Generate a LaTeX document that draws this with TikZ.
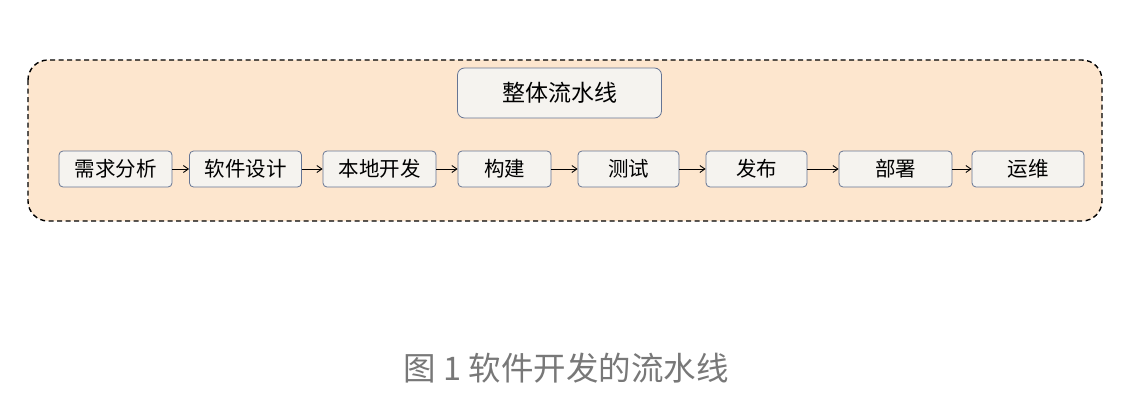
\documentclass[tikz,border=0pt]{standalone}
\usepackage{fontspec}
\newfontfamily\cjk{Noto Sans CJK SC}
\usetikzlibrary{arrows.meta}
\definecolor{peach}{HTML}{FDE6CE}
\definecolor{boxfill}{HTML}{F5F3EF}
\definecolor{boxline}{HTML}{667594}
\definecolor{capgray}{HTML}{787878}
\tikzset{
  stagebox/.style={draw=boxline, fill=boxfill, rounded corners=4pt, line width=0.8pt, font=\cjk\fontsize{20.5}{24}\selectfont, inner sep=0pt},
  flow/.style={-{Straight Barb[length=5pt,width=7pt]}, line width=0.9pt, black}
}
\begin{document}
\begin{tikzpicture}[x=1pt,y=-1pt]
\useasboundingbox (0,0) rectangle (1126,404);
\fill[white] (0,0) rectangle (1126,404);
\draw[fill=peach, dash pattern=on 5pt off 3.5pt, line width=1.4pt, rounded corners=20pt] (28,60) rectangle (1102,221);
\node[stagebox, rounded corners=7pt, minimum width=204pt, minimum height=50pt, font=\cjk\fontsize{23}{26}\selectfont] (title) at (559.5,93) {整体流水线};
\node[stagebox, minimum width=113pt, minimum height=36pt] (a) at (115.5,169) {需求分析};
\node[stagebox, minimum width=112pt, minimum height=36pt] (b) at (245.5,169) {软件设计};
\node[stagebox, minimum width=113pt, minimum height=36pt] (c) at (379.5,169) {本地开发};
\node[stagebox, minimum width=93pt, minimum height=36pt] (d) at (504.5,169) {构建};
\node[stagebox, minimum width=101pt, minimum height=36pt] (e) at (628.5,169) {测试};
\node[stagebox, minimum width=101pt, minimum height=36pt] (f) at (756.5,169) {发布};
\node[stagebox, minimum width=113pt, minimum height=36pt] (g) at (895.5,169) {部署};
\node[stagebox, minimum width=112pt, minimum height=36pt] (h) at (1028,169) {运维};
\draw[flow] (a) -- (b);
\draw[flow] (b) -- (c);
\draw[flow] (c) -- (d);
\draw[flow] (d) -- (e);
\draw[flow] (e) -- (f);
\draw[flow] (f) -- (g);
\draw[flow] (g) -- (h);
\node[font=\cjk\fontsize{32.5}{36}\selectfont, text=capgray] (cap) at (566,368) {图 1 软件开发的流水线};
\end{tikzpicture}
\end{document}
